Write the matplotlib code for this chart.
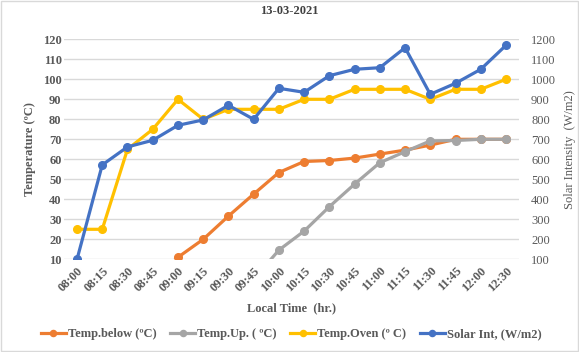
import matplotlib
matplotlib.use("Agg")
import matplotlib.pyplot as plt
import numpy as np
from matplotlib.patches import Rectangle

times = ["08:00", "08:15", "08:30", "08:45", "09:00", "09:15", "09:30", "09:45", "10:00",
         "10:15", "10:30", "10:45", "11:00", "11:15", "11:30", "11:45", "12:00", "12:30"]
temp_below = [0, 0, 0, 0, 11, 20, 31.6, 42.6, 53.4, 58.9, 59.4, 60.6, 62.6, 64.6, 67.1, 70, 70, 70]
temp_up = [0, 0, 0, 0, 0, 0, 0, 0, 14.6, 24.1, 36.3, 47.6, 58.3, 63.8, 69.2, 69.4, 70, 70]
temp_oven = [25, 25, 65, 75, 90, 80, 85, 85, 85, 90, 90, 95, 95, 95, 90, 95, 95, 100]
solar = [100, 572, 662, 695, 770, 797, 870, 800, 955, 935, 1018, 1050, 1058, 1158, 925, 980, 1050, 1170]

plt.rcParams['font.family'] = ['Liberation Serif', 'DejaVu Serif']
tc = '#595959'

fig = plt.figure(figsize=(5.79, 3.52), dpi=100)
fig.patches.append(Rectangle((0.001, 0.002), 0.997, 0.995, transform=fig.transFigure,
                             fill=False, edgecolor='#D9D9D9', lw=1))
ax = fig.add_axes([64.4/579, 1-259.3/352, (518.6-64.4)/579, (259.3-39.3)/352])
ax2 = ax.twinx()

x = np.arange(len(times))
lw = 2.3
ms = 5.5
l1, = ax.plot(x, temp_below, color='#ED7D31', lw=lw, marker='o', ms=ms, label='Temp.below (ºC)')
l2, = ax.plot(x, temp_up, color='#A5A5A5', lw=lw, marker='o', ms=ms, label='Temp.Up. ( ºC)')
l3, = ax.plot(x, temp_oven, color='#FFC000', lw=lw, marker='o', ms=ms, label='Temp.Oven (º C)')
l4, = ax2.plot(x, solar, color='#4472C4', lw=lw, marker='o', ms=ms, label='Solar Int, (W/m2)')

ax.set_xlim(-0.5, len(times) - 0.5)
ax.set_ylim(10, 120)
ax2.set_ylim(100, 1200)
ax.set_yticks(np.arange(10, 121, 10))
ax2.set_yticks(np.arange(100, 1201, 100))
ax.set_xticks(x)
ax.set_xticklabels(times, rotation=45, ha='right', rotation_mode='anchor')
ax.grid(axis='y', color='#D9D9D9', lw=1)
ax.set_axisbelow(True)
for a in (ax, ax2):
    for s in a.spines.values():
        s.set_visible(False)
    a.tick_params(length=0, labelsize=9, labelcolor=tc)
    for lab in a.get_xticklabels() + a.get_yticklabels():
        lab.set_fontweight('bold')
ax.tick_params(axis='y', pad=2)
ax.tick_params(axis='x', pad=4)
ax2.tick_params(axis='y', pad=9)
for lab in ax2.get_yticklabels():
    lab.set_fontweight('normal')

ax.set_ylabel('Temperature (ºC)', fontsize=9, fontweight='bold', color=tc, labelpad=5)
ax2.set_ylabel('Solar Intensity  (W/m2)', fontsize=9, color=tc, labelpad=6)
ax.set_xlabel('Local Time  (hr.)', fontsize=9, fontweight='bold', color=tc, labelpad=6)
fig.text(0.5, 1-11/352, '13-03-2021', ha='center', va='center', fontsize=9, fontweight='bold', color='#404040')

fig.legend([l1, l2, l3, l4], [l.get_label() for l in (l1, l2, l3, l4)],
           loc='center', bbox_to_anchor=(291/579, 1-334/352), ncol=4, frameon=False,
           prop={'size': 9, 'weight': 'bold'}, labelcolor=tc, handlelength=2.0,
           columnspacing=1.1, handletextpad=0.15, borderaxespad=0, markerscale=0.8)

fig.savefig('out.png', dpi=100)
